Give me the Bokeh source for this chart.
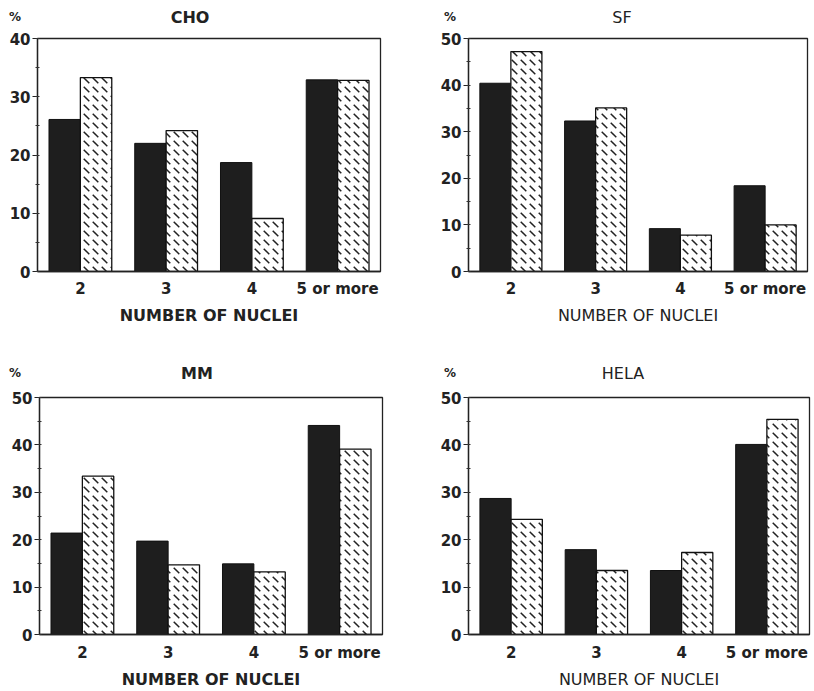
from bokeh.plotting import figure
from bokeh.layouts import column, row
from bokeh.models import FactorRange, Range1d, ColumnDataSource, Div
from bokeh.transform import dodge
from bokeh.embed import file_html
from bokeh.resources import INLINE

categories = ["2", "3", "4", "5 or more"]

cho_dark = [26.1, 22.0, 18.7, 32.9]
cho_hatched = [33.3, 24.2, 9.1, 32.8]

sf_dark = [40.4, 32.3, 9.2, 18.4]
sf_hatched = [47.2, 35.1, 7.8, 10.0]

mm_dark = [21.4, 19.7, 14.9, 44.1]
mm_hatched = [33.4, 14.7, 13.2, 39.1]

hela_dark = [28.7, 17.9, 13.5, 40.1]
hela_hatched = [24.3, 13.5, 17.3, 45.4]

x_title = "NUMBER OF NUCLEI"
y_unit = "%"
FONT = "DejaVu Sans"
INK = "#222222"


def header(name, width, height, pct_x, name_x, cy, bold_text):
    weight = "bold" if bold_text else "normal"
    html = (
        f'<div style="position:relative;width:{width}px;height:{height}px;'
        f"font-family:'{FONT}';color:{INK};\">"
        f'<span style="position:absolute;left:{pct_x}px;top:{cy}px;'
        f'transform:translate(-50%,-50%);font-size:12px;font-weight:bold;">{y_unit}</span>'
        f'<span style="position:absolute;left:{name_x}px;top:{cy}px;'
        f'transform:translate(-50%,-50%);font-size:16px;font-weight:{weight};'
        f'white-space:nowrap;">{name}</span></div>'
    )
    return Div(text=html, width=width, height=height, margin=0)


def panel(dark, hatched, ymax, width, height, bl, br, bt, bb,
          bold_text, tick_standoff, label_standoff):
    src = ColumnDataSource(dict(cat=categories, dark=dark, hatched=hatched))
    p = figure(x_range=FactorRange(*categories), y_range=Range1d(0, ymax),
               width=width, height=height, output_backend="svg",
               toolbar_location=None, min_border_left=bl, min_border_right=br,
               min_border_top=bt, min_border_bottom=bb)
    p.vbar(x=dodge("cat", -0.183, range=p.x_range), top="dark", width=0.366,
           source=src, fill_color="#1e1e1e", line_color="#111111", line_width=1)
    p.vbar(x=dodge("cat", 0.183, range=p.x_range), top="hatched", width=0.366,
           source=src, fill_color="white", line_color="#111111", line_width=1.3,
           hatch_pattern="left_diagonal_dash", hatch_color=INK,
           hatch_scale=9, hatch_weight=1.5)
    p.xgrid.visible = False
    p.ygrid.visible = False
    p.outline_line_color = INK
    p.outline_line_width = 1.3
    p.x_range.range_padding = 0
    p.x_range.group_padding = 0

    weight = "bold" if bold_text else "normal"
    ax = p.xaxis[0]
    ax.axis_label = x_title
    ax.axis_label_text_font = FONT
    ax.axis_label_text_font_style = weight
    ax.axis_label_text_font_size = "16px"
    ax.axis_label_text_color = INK
    ax.axis_label_standoff = label_standoff
    ax.major_label_text_font = FONT
    ax.major_label_text_font_style = "bold"
    ax.major_label_text_font_size = "15px"
    ax.major_label_text_color = INK
    ax.major_label_standoff = tick_standoff
    ax.major_tick_out = 0
    ax.major_tick_in = 0
    ax.axis_line_color = INK
    ax.axis_line_width = 1.3

    ay = p.yaxis[0]
    ay.ticker.desired_num_ticks = ymax // 10 + 1
    ay.ticker.num_minor_ticks = 2
    ay.major_label_text_font = FONT
    ay.major_label_text_font_style = "bold"
    ay.major_label_text_font_size = "15px"
    ay.major_label_text_color = INK
    ay.major_label_standoff = 2
    ay.major_tick_out = 5
    ay.major_tick_in = 0
    ay.minor_tick_out = 2
    ay.minor_tick_in = 2
    ay.axis_line_color = INK
    ay.axis_line_width = 1.3
    ay.major_tick_line_color = INK
    ay.minor_tick_line_color = "#333333"
    return p


h1 = header("CHO", 410, 30, 15, 190, 18, True)
h2 = header("SF", 404, 30, 40, 212, 18, False)
p1 = panel(cho_dark, cho_hatched, 40, 410, 310, 37, 30, 8, 69, True, 8, 5)
p2 = panel(sf_dark, sf_hatched, 50, 404, 310, 58, 7, 7, 69, False, 8, 5)

h3 = header("MM", 410, 45, 15, 197, 34, True)
h4 = header("HELA", 404, 45, 40, 213, 34, False)
p3 = panel(mm_dark, mm_hatched, 50, 410, 306, 39, 28, 12, 56, True, 9, 5)
p4 = panel(hela_dark, hela_hatched, 50, 404, 306, 58, 5, 12, 57, False, 9, 5)

layout = column(row(h1, h2), row(p1, p2), row(h3, h4), row(p3, p4))

open("out.html", "w").write(file_html(layout, INLINE))
